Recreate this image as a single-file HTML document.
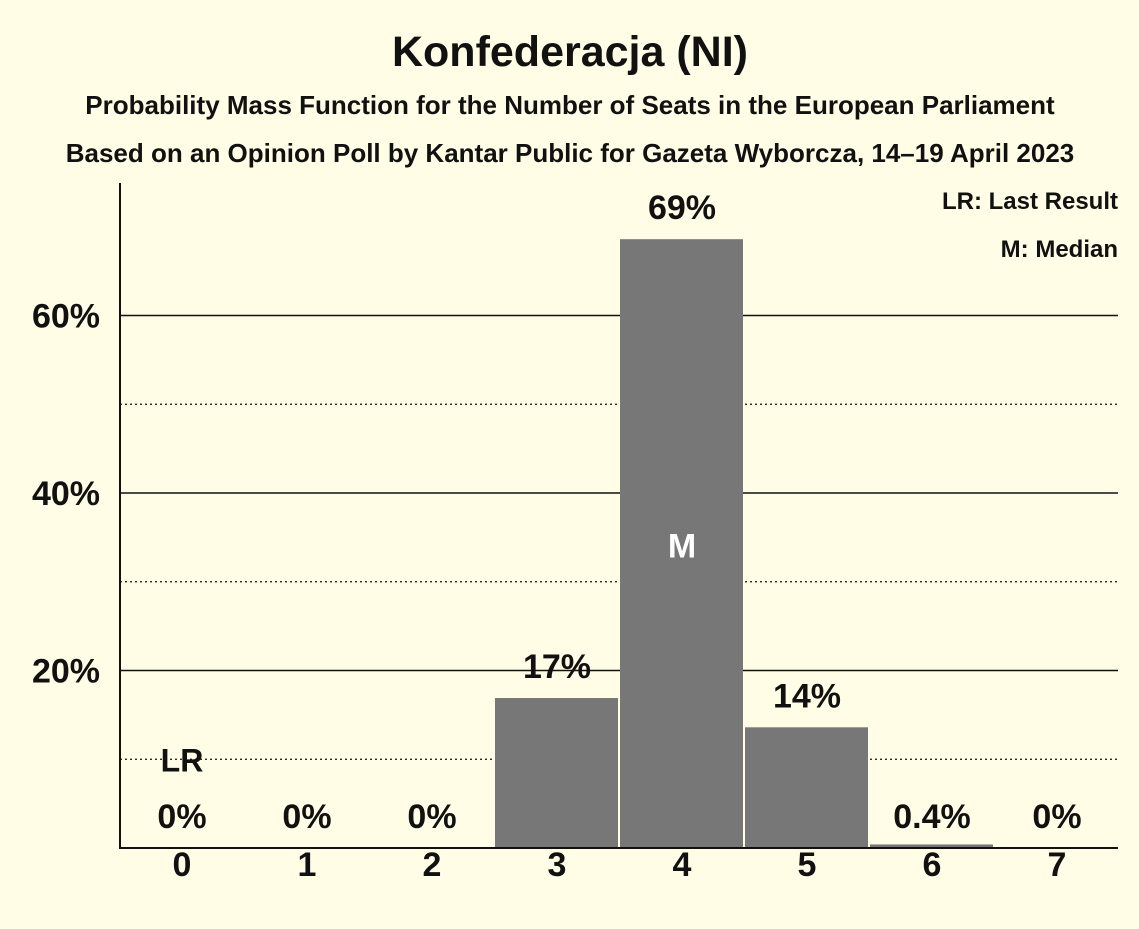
<!DOCTYPE html>
<html><head><meta charset="utf-8"><style>
body{margin:0;background:#fffde5;}
svg text{font-family:"Liberation Sans",sans-serif;font-weight:bold;fill:#111;}
</style></head><body>
<svg width="1139" height="924" xmlns="http://www.w3.org/2000/svg">
<rect width="1139" height="924" fill="#fffde5"/>
<text x="570" y="66" font-size="43" text-anchor="middle">Konfederacja (NI)</text>
<text x="570" y="114" font-size="26" text-anchor="middle">Probability Mass Function for the Number of Seats in the European Parliament</text>
<text x="570" y="162" font-size="26" text-anchor="middle">Based on an Opinion Poll by Kantar Public for Gazeta Wyborcza, 14–19 April 2023</text>
<text x="1118" y="209" font-size="24" text-anchor="end">LR: Last Result</text>
<text x="1118" y="257" font-size="24" text-anchor="end">M: Median</text>
<text x="1134" y="110" font-size="10" text-anchor="middle" transform="rotate(-90 1134 60)" style="font-weight:normal">© 2023 Filip van Laenen</text>
<g id="grid"></g><g id="bars"></g><g id="labels"></g>
<line x1="120" y1="183" x2="120" y2="849" stroke="#111" stroke-width="2"/>
<line x1="119" y1="848" x2="1118" y2="848" stroke="#111" stroke-width="2"/>
</svg>
<script>
const categories=[0,1,2,3,4,5,6,7];
const values=[0,0,0,16.9,68.6,13.6,0.4,0];
const valueLabels=["0%","0%","0%","17%","69%","14%","0.4%","0%"];
const solidTicks=[20,40,60];
const dottedTicks=[10,30,50];
const tickLabels=["20%","40%","60%"];
const lastResult=0, median=4;
const NS="http://www.w3.org/2000/svg";
const y=v=>848-v*8.875;
const xl=i=>120+125*i;
function mk(t,a,p,txt){const e=document.createElementNS(NS,t);for(const k in a)e.setAttribute(k,a[k]);if(txt!=null)e.textContent=txt;document.getElementById(p).appendChild(e);return e;}
dottedTicks.forEach(v=>{const e=mk('line',{x1:120,x2:1118,y1:y(v),y2:y(v),stroke:'#111','stroke-width':1.2,'stroke-dasharray':'2,3'},'grid');

});
solidTicks.forEach((v,i)=>{const e=mk('line',{x1:120,x2:1118,y1:y(v),y2:y(v),stroke:'#111','stroke-width':1.5},'grid');


const t=mk('text',{x:100,y:y(v)+12,'font-size':34,'text-anchor':'end'},'grid',tickLabels[i]);

});
categories.forEach((c,i)=>{const cx=xl(i)+62;
if(values[i]>0){const r=mk('rect',{x:xl(i),y:y(values[i]),width:123,height:848-y(values[i]),fill:'#777'},'bars');

}
let ly=values[i]<2?828:y(values[i])-20;
const t=mk('text',{x:cx,y:ly,'font-size':34,'text-anchor':'middle'},'labels',valueLabels[i]);


const xt=mk('text',{x:cx,y:876,'font-size':34,'text-anchor':'middle'},'labels',String(c));


if(i===lastResult){const l=mk('text',{x:cx,y:y(10)+12,'font-size':32,'text-anchor':'middle'},'labels','LR');

}
if(i===median){const m=mk('text',{x:cx,y:y(values[i]/2)+14,'font-size':34,'text-anchor':'middle',style:'fill:#fff'},'labels','M');

}
});
</script>
</body></html>
